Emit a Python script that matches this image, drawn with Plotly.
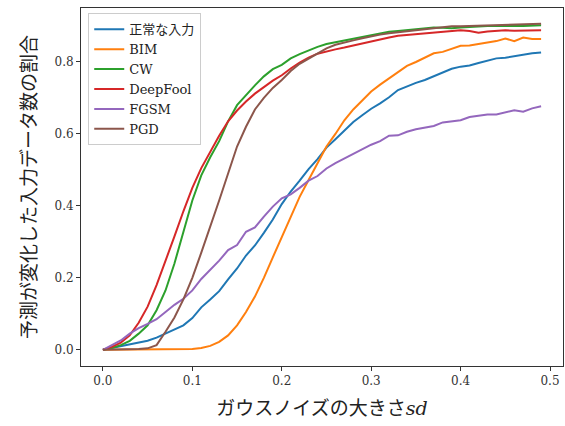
import plotly.graph_objects as go

sd = [round(i * 0.01, 2) for i in range(50)]

normal = [0.0, 0.005, 0.009, 0.014, 0.019, 0.025, 0.034, 0.046, 0.056, 0.068,
          0.088, 0.118, 0.14, 0.163, 0.196, 0.226, 0.262, 0.29, 0.325, 0.362,
          0.405, 0.44, 0.47, 0.502, 0.53, 0.562, 0.585, 0.61, 0.633, 0.652,
          0.67, 0.685, 0.702, 0.722, 0.733, 0.742, 0.75, 0.76, 0.769, 0.781,
          0.787, 0.79, 0.797, 0.804, 0.81, 0.812, 0.816, 0.821, 0.824, 0.826]
bim = [0.0, 0.0, 0.0, 0.0, 0.0, 0.0, 0.0, 0.0, 0.0, 0.0005,
       0.002, 0.005, 0.011, 0.022, 0.04, 0.068, 0.105, 0.148, 0.2, 0.257,
       0.313, 0.37, 0.425, 0.472, 0.52, 0.565, 0.6, 0.638, 0.668, 0.694,
       0.718, 0.737, 0.755, 0.773, 0.789, 0.8, 0.812, 0.824, 0.828, 0.837,
       0.845, 0.846, 0.85, 0.855, 0.858, 0.865, 0.858, 0.868, 0.864, 0.864]
cw = [0.0, 0.005, 0.013, 0.025, 0.045, 0.068, 0.11, 0.165, 0.24, 0.33,
      0.415, 0.485, 0.535, 0.58, 0.635, 0.68, 0.708, 0.735, 0.76, 0.78,
      0.792, 0.81, 0.822, 0.833, 0.842, 0.85, 0.855, 0.86, 0.866, 0.87,
      0.876, 0.881, 0.884, 0.886, 0.888, 0.89, 0.893, 0.896, 0.895, 0.894,
      0.896, 0.898, 0.899, 0.9, 0.9, 0.899, 0.9, 0.9, 0.901, 0.902]
deepfool = [0.0, 0.008, 0.02, 0.04, 0.075, 0.12, 0.18, 0.245, 0.315, 0.385,
            0.45, 0.505, 0.55, 0.595, 0.635, 0.665, 0.69, 0.712, 0.73, 0.748,
            0.763, 0.782, 0.798, 0.812, 0.823, 0.83, 0.835, 0.84, 0.846, 0.852,
            0.857, 0.862, 0.868, 0.873, 0.875, 0.877, 0.879, 0.882, 0.884, 0.886,
            0.888, 0.886, 0.881, 0.885, 0.887, 0.888, 0.887, 0.888, 0.888, 0.888]
fgsm = [0.0, 0.012, 0.026, 0.045, 0.06, 0.072, 0.085, 0.105, 0.125, 0.142,
        0.165, 0.197, 0.222, 0.248, 0.277, 0.291, 0.328, 0.34, 0.37, 0.398,
        0.421, 0.432, 0.45, 0.47, 0.483, 0.504, 0.519, 0.532, 0.546, 0.558,
        0.57, 0.58, 0.595, 0.596, 0.606, 0.613, 0.618, 0.622, 0.632, 0.636,
        0.638, 0.647, 0.651, 0.654, 0.654, 0.66, 0.666, 0.662, 0.671, 0.677]
pgd = [0.0, 0.0, 0.0, 0.001, 0.002, 0.004, 0.013, 0.05, 0.09, 0.14,
       0.2, 0.27, 0.34, 0.415, 0.49, 0.565, 0.62, 0.668, 0.7, 0.728,
       0.75, 0.775, 0.795, 0.81, 0.825, 0.838, 0.848, 0.855, 0.86, 0.866,
       0.872, 0.876, 0.88, 0.883, 0.886, 0.889, 0.892, 0.893, 0.896, 0.899,
       0.899, 0.9, 0.901, 0.901, 0.901, 0.902, 0.903, 0.904, 0.905, 0.906]

names = ["正常な入力", "BIM", "CW", "DeepFool", "FGSM", "PGD"]
series = [normal, bim, cw, deepfool, fgsm, pgd]
colors = ["#1f77b4", "#ff7f0e", "#2ca02c", "#d62728", "#9467bd", "#8c564b"]

x_ticks = [0.0, 0.1, 0.2, 0.3, 0.4, 0.5]
y_ticks = [0.0, 0.2, 0.4, 0.6, 0.8]

FONT = "DejaVu Serif, Noto Sans CJK JP, serif"

fig = go.Figure()
for name, ys, c in zip(names, series, colors):
    fig.add_trace(go.Scatter(x=sd, y=ys, mode="lines", name=name,
                             line=dict(color=c, width=2)))

axis_common = dict(showline=True, linecolor="#333333", linewidth=1, mirror=True,
                   ticks="outside", ticklen=4, tickcolor="#333333", showgrid=False,
                   zeroline=False, automargin=False,
                   tickfont=dict(family=FONT, size=12, color="#333333"))

fig.update_layout(
    width=565, height=426,
    margin=dict(l=81, r=2, t=8, b=60),
    plot_bgcolor="white", paper_bgcolor="white",
    font=dict(family=FONT, color="#222222"),
    xaxis=dict(range=[-0.0245, 0.5145], tickvals=x_ticks, tickformat=".1f",
               title=dict(text="ガウスノイズの大きさ<i>sd</i>",
                          font=dict(family=FONT, size=19, color="#222222"), standoff=14),
               **axis_common),
    yaxis=dict(range=[-0.045, 0.95], tickvals=y_ticks, tickformat=".1f",
               title=dict(text="予測が変化した入力データ数の割合",
                          font=dict(family=FONT, size=19, color="#222222"), standoff=12),
               **axis_common),
    legend=dict(x=0.015, y=0.985, xanchor="left", yanchor="top",
                bgcolor="rgba(255,255,255,0.85)", bordercolor="#cccccc", borderwidth=1,
                font=dict(family=FONT, size=13, color="#222222"),
                tracegroupgap=0, itemwidth=30),
    showlegend=True,
)

fig.write_html("out.html",
               config={"displayModeBar": False},
               post_script="document.body.style.margin='0';document.body.style.padding='0';")
